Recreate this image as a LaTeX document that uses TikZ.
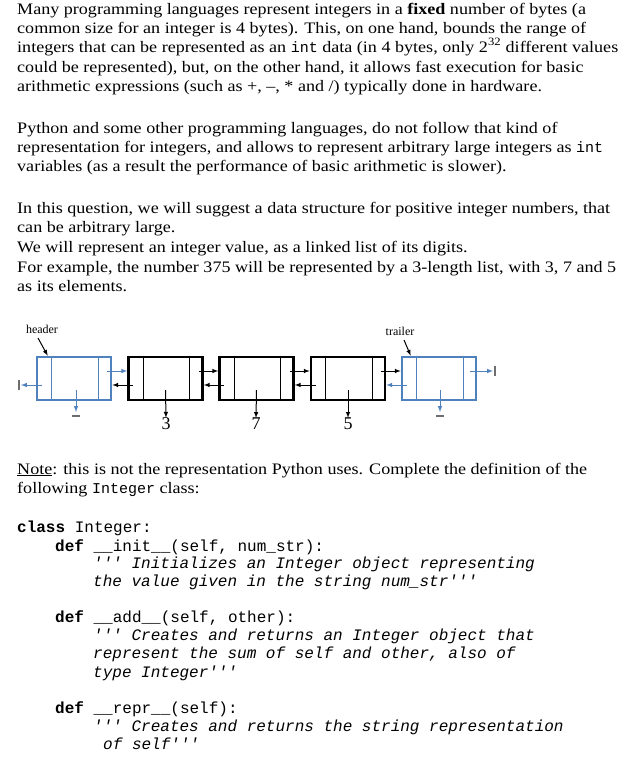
\documentclass[tikz,border=0pt]{standalone}
\usepackage{fontspec}
\setmainfont{Liberation Serif}[FakeStretch=1.13]
\setmonofont{Liberation Mono}
\newfontfamily\diagfont{Liberation Serif}
\newcommand\inlinett[1]{{\ttfamily\fontsize{15}{18}\selectfont #1}}
\begin{document}
\begin{tikzpicture}[x=1pt,y=-1pt,
  txt/.style={anchor=base west,inner sep=0pt,font=\fontsize{16}{18}\selectfont},
  code/.style={anchor=base west,inner sep=0pt,font=\fontsize{16}{18}\ttfamily},
  cell/.style={draw,line width=2.6pt,minimum width=74pt,minimum height=43pt,inner sep=0pt},
  div/.style={line width=0.9pt},
  arr/.style={line width=1pt,-latex},
  lab/.style={font=\diagfont\fontsize{18}{18}\selectfont,inner sep=0pt}]
\definecolor{bl}{RGB}{79,129,189}
\definecolor{gy}{RGB}{110,110,110}
\useasboundingbox (0,0) rectangle (633,772);
% paragraph text
\node[txt] (l1) at (17,14) {Many programming languages represent integers in a \textbf{fixed} number of bytes (a};
\node[txt] (l2) at (17,33) {common size for an integer is 4 bytes). This, on one hand, bounds the range of};
\node[txt] (l3) at (17,52) {integers that can be represented as an \inlinett{int} data (in 4 bytes, only 2\textsuperscript{32} different values};
\node[txt] (l4) at (17,72) {could be represented), but, on the other hand, it allows fast execution for basic};
\node[txt] (l5) at (17,91) {arithmetic expressions (such as +, \textendash, * and /) typically done in hardware.};
\node[txt] (l7) at (17,133) {Python and some other programming languages, do not follow that kind of};
\node[txt] (l8) at (17,152) {representation for integers, and allows to represent arbitrary large integers as \inlinett{int}};
\node[txt] (l9) at (17,171) {variables (as a result the performance of basic arithmetic is slower).};
\node[txt] (l11) at (17,213) {In this question, we will suggest a data structure for positive integer numbers, that};
\node[txt] (l12) at (17,232) {can be arbitrary large.};
\node[txt] (l13) at (17,252) {We will represent an integer value, as a linked list of its digits.};
\node[txt] (l14) at (17,272) {For example, the number 375 will be represented by a 3-length list, with 3, 7 and 5};
\node[txt] (l15) at (17,291) {as its elements.};
\node[txt] (n1) at (17,474) {\underline{Note}: this is not the representation Python uses. Complete the definition of the};
\node[txt] (n2) at (17,493) {following \inlinett{Integer} class:};
% code
\node[code] (c1) at (17,532) {\textbf{class} Integer:};
\node[code] (c2) at (55,551) {\textbf{def} \_\_init\_\_(self, num\_str):};
\node[code] (c3) at (93,568) {\itshape ''' Initializes an Integer object representing};
\node[code] (c4) at (93,586) {\itshape the value given in the string num\_str'''};
\node[code] (c5) at (55,622) {\textbf{def} \_\_add\_\_(self, other):};
\node[code] (c6) at (93,640) {\itshape ''' Creates and returns an Integer object that};
\node[code] (c7) at (93,658) {\itshape represent the sum of self and other, also of};
\node[code] (c8) at (93,677) {\itshape type Integer'''};
\node[code] (c9) at (55,713) {\textbf{def} \_\_repr\_\_(self):};
\node[code] (c10) at (93,731) {\itshape ''' Creates and returns the string representation};
\node[code] (c11) at (103,749) {\itshape of self'''};
% diagram boxes
\node[cell,bl] (h) at (74,378.5) {};
\node[cell] (b1) at (165.5,378.5) {};
\node[cell] (b2) at (256.5,378.5) {};
\node[cell] (b3) at (348,378.5) {};
\node[cell,bl] (t) at (439,378.5) {};
\foreach \b/\c in {h/bl,b1/black,b2/black,b3/black,t/bl}{
  \draw[div,\c] ([xshift=16pt]\b.north west) -- ([xshift=16pt]\b.south west);
  \draw[div,\c] ([xshift=-14pt]\b.north east) -- ([xshift=-14pt]\b.south east);
}
% next arrows (y=371)
\draw[arr,bl] ([xshift=-5pt]h.east |- 0,371) -- (b1.west |- 0,371);
\draw[arr] ([xshift=-5pt]b1.east |- 0,371) -- (b2.west |- 0,371);
\draw[arr] ([xshift=-5pt]b2.east |- 0,371) -- (b3.west |- 0,371);
\draw[arr] ([xshift=-5pt]b3.east |- 0,371) -- (t.west |- 0,371);
% prev arrows (y=385)
\draw[arr] ([xshift=6pt]b1.west |- 0,385) -- (h.east |- 0,385);
\draw[arr] ([xshift=6pt]b2.west |- 0,385) -- (b1.east |- 0,385);
\draw[arr] ([xshift=6pt]b3.west |- 0,385) -- (b2.east |- 0,385);
\draw[arr,bl] ([xshift=6pt]t.west |- 0,385) -- (b3.east |- 0,385);
% null ends
\coordinate (hn) at (21,385);
\coordinate (tn) at (493,371);
\draw[arr,bl] ([xshift=6pt]h.west |- 0,385) -- (hn);
\draw[line width=1.2pt,gy] (19,380) -- (19,390);
\draw[arr,bl] ([xshift=-7pt]t.east |- 0,371) -- (tn);
\draw[line width=1.5pt,gy] (495,366) -- (495,376);
% element arrows
\coordinate (hg) at (76,412);
\coordinate (tg) at (440,412);
\draw[arr,bl] (76,390) -- (hg);
\draw[line width=2pt,gy] (72,416) -- (80,416);
\draw[arr,bl] (440,390) -- (tg);
\draw[line width=2pt,gy] (436,416) -- (444,416);
\node[lab] (v3) at (166,424) {3};
\node[lab] (v7) at (256,424) {7};
\node[lab] (v5) at (348,424) {5};
\draw[arr] (b1.center |- 0,390) -- (v3.north);
\draw[arr] (b2.center |- 0,390) -- (v7.north);
\draw[arr] (b3.center |- 0,390) -- (v5.north);
% pointers
\node[font=\diagfont\fontsize{12}{12}\selectfont,inner sep=0pt] (hl) at (42,329) {header};
\node[font=\diagfont\fontsize{12}{12}\selectfont,inner sep=0pt] (tl) at (400,331) {trailer};
\draw[arr] (38,338) -- ([xshift=12pt]h.north west);
\draw[arr] (404,340) -- ([xshift=10pt]t.north west);
\end{tikzpicture}
\end{document}
